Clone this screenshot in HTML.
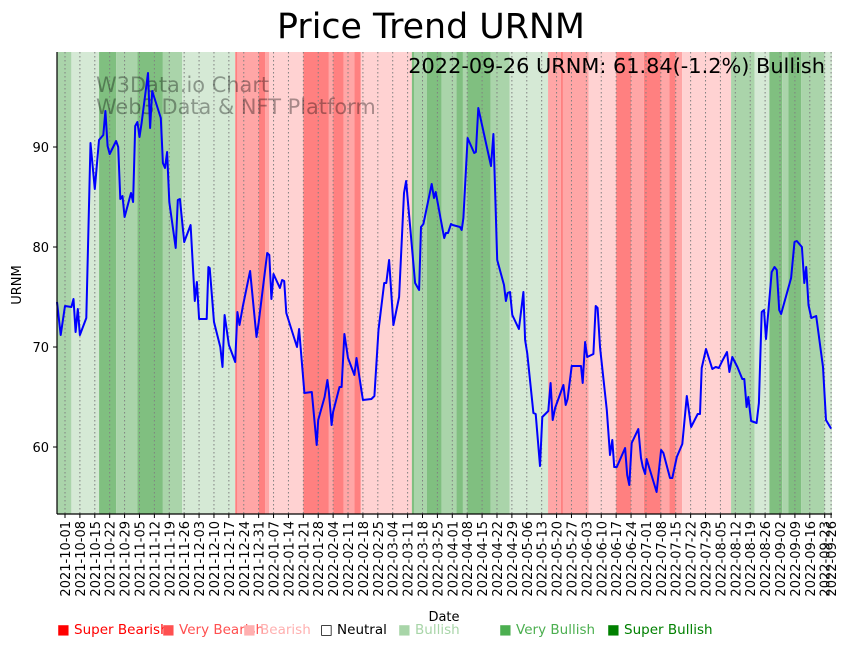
<!DOCTYPE html>
<html><head><meta charset="utf-8"><style>
body{margin:0;background:#fff;font-family:"Liberation Sans","DejaVu Sans",sans-serif}
</style></head><body>
<svg id="chart" width="851" height="646" xmlns="http://www.w3.org/2000/svg" font-family="DejaVu Sans, Liberation Sans, sans-serif">
<g id="bands"></g>
<g id="grid"></g>
<text x="96" y="92" font-size="20.9" fill="#000" fill-opacity="0.35">W3Data.io Chart</text>
<text x="96" y="114" font-size="20.9" fill="#000" fill-opacity="0.35">Web3 Data &amp; NFT Platform</text>
<path id="line" fill="none" stroke="#0000ff" stroke-width="2" stroke-linejoin="round"/>
<line x1="57" y1="52" x2="57" y2="514" stroke="#000" stroke-width="1.2"/>
<line x1="57" y1="514" x2="832" y2="514" stroke="#000" stroke-width="1.2"/>
<g id="yticks"></g>
<g id="xticks"></g>
<text x="431" y="38" font-size="34.8" text-anchor="middle">Price Trend URNM</text>
<text x="825" y="73" font-size="20.85" text-anchor="end">2022-09-26 URNM: 61.84(-1.2%) Bullish</text>
<text transform="translate(21,285) rotate(-90)" font-size="13" text-anchor="middle">URNM</text>
<text x="444" y="621" font-size="13" text-anchor="middle">Date</text>
<g font-size="13.5">
<text x="57" y="634" fill="#ff0000">■ Super Bearish</text>
<text x="162" y="634" fill="#ff5050">■ Very Bearish</text>
<text x="243" y="634" fill="#ffb0b0">■ Bearish</text>
<text x="320" y="634" fill="#000">□ Neutral</text>
<text x="398" y="634" fill="#a8d5a8">■ Bullish</text>
<text x="499" y="634" fill="#4caf50">■ Very Bullish</text>
<text x="607" y="634" fill="#008000">■ Super Bullish</text>
</g>
</svg>
<script>
// day offsets from 2021-10-01
const bandStarts=[-4,3,16,24,34,46,55,80,81,91,94,96,112,124,126,131,136,139,163,164,170,177,184,187,189,200,209,227,233,234,246,259,266,272,280,284,287,290,313,324,331,337,340,346,357];
const bandClasses=["M","L","D","M","D","M","L","SR","VR","SR","VR","BR","SR","VR","SR","VR","SR","BR","D","M","D","M","D","M","D","M","L","VR","SR","VR","BR","SR","VR","SR","VR","SR","VR","BR","M","L","D","M","D","M","L"];
const bandEnd=361;
const priceDays=[-4,-2,0,3,4,5,6,7,10,12,14,16,18,19,20,21,24,25,26,27,28,31,32,33,34,35,36,39,40,41,45,46,47,48,49,52,53,54,56,59,61,62,63,66.6,67.4,68,70,73,74,75,77,80,81,82,83.5,87,90,91,95,96,97,98,101,102,103,104,109,110,112.5,116,118.3,119,122,123.3,124,125.3,126,129,130,131.3,133,136,137,140,144,145.4,147.3,150,151,152.3,154.3,157,159.3,160.3,164.5,166.4,167.3,168.4,172.3,173.4,174.2,178.2,179,180,181.4,182.2,185.6,186.4,187.2,189.2,192.3,193.1,194.2,200.2,201.3,203.1,206.3,207.2,208,209.1,210.2,213.3,215.4,216.2,217.2,220.1,221.2,223.2,224.3,227.1,228.2,229.2,230.3,234.2,235.3,236.2,238.1,242.5,243.3,244.4,245.4,248.3,249.4,250.3,251.4,254.6,256.1,257.2,258.1,259.3,263.2,264.2,265.2,266.3,269.4,270.7,271.5,272.6,273.3,278,280.1,281.2,284.3,285.4,287.5,290.1,292.2,294.2,297.3,298.4,299.2,301.2,304.2,305.8,307.3,308.6,311.1,312.2,313.6,316,318.3,319.2,320.3,321.1,322.4,325,326.1,327.4,328.5,329.4,332.1,333.4,334.5,335.6,336.5,341.2,342.8,343.9,346.3,347.4,348.3,349.4,350.7,353,356.2,357.6,360];
const priceValues=[74.5,71.2,74.1,74.0,74.8,71.5,73.8,71.2,72.9,90.4,85.8,90.7,91.2,93.6,90.1,89.3,90.6,90.0,84.8,85.1,83.0,85.4,84.5,92.1,92.5,91.0,92.4,97.4,91.9,95.6,92.9,88.4,87.9,89.5,84.5,79.9,84.7,84.8,80.5,82.2,74.6,76.5,72.8,72.8,78.0,77.9,72.5,70.0,68.0,73.2,70.2,68.5,73.5,72.2,74.0,77.6,71.0,72.4,79.4,79.2,74.8,77.3,75.9,76.7,76.6,73.4,70.0,71.8,65.4,65.5,60.2,62.7,65.0,66.7,65.5,62.2,63.5,66.0,66.0,71.3,68.9,67.2,68.9,64.7,64.8,65.1,71.7,76.4,76.4,78.7,72.2,75.0,85.4,86.6,76.4,75.7,82.0,82.3,86.3,84.9,85.5,80.9,81.4,81.4,82.3,82.2,82.0,81.7,82.9,90.9,89.4,89.5,93.9,88.1,91.3,78.7,76.2,74.6,75.4,75.5,73.2,71.8,75.5,70.7,69.4,63.4,63.3,58.1,63.0,63.6,66.4,62.7,63.9,66.2,64.2,64.8,68.1,68.1,66.4,70.5,69.0,69.3,74.1,73.9,70.0,63.7,59.2,60.7,58.0,58.0,59.9,57.2,56.2,60.4,61.8,58.9,58.0,57.3,58.8,55.5,59.7,59.4,56.9,56.9,59.0,60.3,65.1,62.0,63.3,63.3,67.9,69.8,67.8,68.0,67.9,68.5,69.5,67.5,69.0,68.0,66.8,66.8,64.0,65.0,62.6,62.4,64.4,73.5,73.7,70.8,77.5,78.0,77.7,73.7,73.3,76.9,80.5,80.6,80.0,76.4,78.0,74.2,72.9,73.1,68.0,62.7,61.84];
const yTicks=[60,70,80,90];
const xTickDays=[0,7,14,21,28,35,42,49,56,63,70,77,84,91,98,105,112,119,126,133,140,147,154,161,168,175,182,189,196,203,210,217,224,231,238,245,252,259,266,273,280,287,294,301,308,315,322,329,336,343,350,357,360];
const bandColors={L:"#d5e9d5",M:"#aad4aa",D:"#80bf80",BR:"#ffd2d2",VR:"#ffa6a6",SR:"#ff8080"};
const X0=57,X1=832,Y0=52,Y1=514;
function xs(d){return 65+d*2.128;}
function ys(v){return 147+(90-v)*10;}
function fmt(d){const t=new Date(Date.UTC(2021,9,1)+d*86400000);return t.toISOString().slice(0,10);}
const NS="http://www.w3.org/2000/svg";
const bands=document.getElementById('bands');
for(let i=0;i<bandStarts.length;i++){
  const s=bandStarts[i],e=i+1<bandStarts.length?bandStarts[i+1]:bandEnd;
  const a=Math.max(X0,xs(s)),b=Math.min(X1,xs(e));
  const r=document.createElementNS(NS,'rect');
  r.setAttribute('x',a);r.setAttribute('y',Y0);r.setAttribute('width',Math.max(0,b-a));r.setAttribute('height',Y1-Y0);
  r.setAttribute('fill',bandColors[bandClasses[i]]);
  
  
  bands.appendChild(r);
}
const grid=document.getElementById('grid'),xt=document.getElementById('xticks');
xTickDays.forEach(d=>{
  const x=xs(d);
  const g=document.createElementNS(NS,'line');
  g.setAttribute('x1',x);g.setAttribute('x2',x);g.setAttribute('y1',Y0);g.setAttribute('y2',Y1);
  g.setAttribute('stroke','#808080');g.setAttribute('stroke-width','1');g.setAttribute('stroke-dasharray','1.5,2.5');
  
  
  grid.appendChild(g);
  const t=document.createElementNS(NS,'line');
  t.setAttribute('x1',x);t.setAttribute('x2',x);t.setAttribute('y1',Y1);t.setAttribute('y2',Y1+4);t.setAttribute('stroke','#000');
  
  
  xt.appendChild(t);
  const l=document.createElementNS(NS,'text');
  l.setAttribute('transform','translate('+(x+5)+','+(Y1+7)+') rotate(-90)');
  l.setAttribute('text-anchor','end');l.setAttribute('font-size','13');
  l.textContent=fmt(d);
  
  
  xt.appendChild(l);
});
const yt=document.getElementById('yticks');
yTicks.forEach(v=>{
  const y=ys(v);
  const t=document.createElementNS(NS,'line');
  t.setAttribute('x1',X0-4);t.setAttribute('x2',X0);t.setAttribute('y1',y);t.setAttribute('y2',y);t.setAttribute('stroke','#000');
  
  
  yt.appendChild(t);
  const l=document.createElementNS(NS,'text');
  l.setAttribute('x',X0-8);l.setAttribute('y',y+5);l.setAttribute('text-anchor','end');l.setAttribute('font-size','13');
  l.textContent=v;
  
  
  yt.appendChild(l);
});
let d='';
priceDays.forEach((day,i)=>{d+=(i?'L':'M')+Math.max(X0,xs(day)).toFixed(1)+','+ys(priceValues[i]).toFixed(1);});
document.getElementById('line').setAttribute('d',d);
</script>
</body></html>
